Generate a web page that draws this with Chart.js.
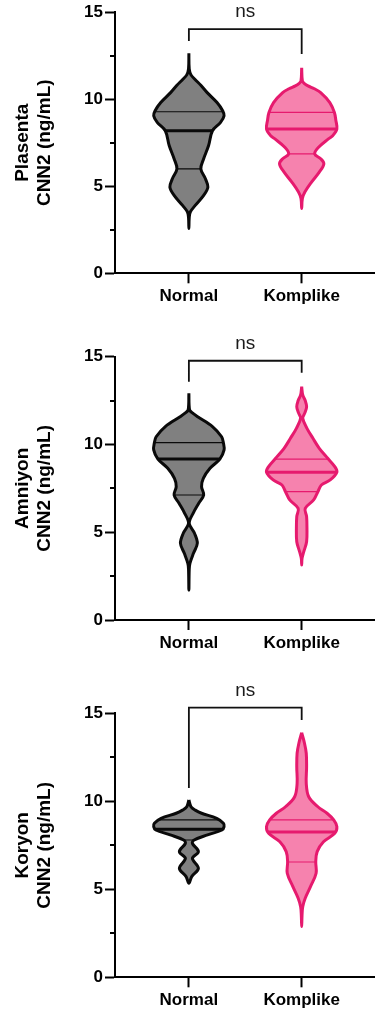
<!DOCTYPE html>
<html>
<head>
<meta charset="utf-8">
<script src="https://cdn.jsdelivr.net/npm/chart.js@4.4.1/dist/chart.umd.min.js"></script>
<style>
  html, body { margin: 0; padding: 0; background: #fff; }
  #wrap { position: relative; width: 375px; height: 1013px; }
  canvas { position: absolute; left: 0; }
</style>
</head>
<body>
<div id="wrap">
  <canvas id="plasenta" width="375" height="330" style="top:0px"></canvas>
  <canvas id="amniyon" width="375" height="340" style="top:330px"></canvas>
  <canvas id="koryon" width="375" height="343" style="top:670px"></canvas>
</div>
<script>
const categories = ['Normal', 'Komplike'];
const minorTicks = [2.5, 7.5, 12.5];

// violin profiles: levels (ng/mL) and relative density (1 = widest)
const plasentaNormalY = [12.64, 11.75, 11.4, 11.15, 10.8, 10.38, 9.81, 9.34, 9.05, 8.67, 8.19, 7.34, 6.58, 6.0, 5.43, 4.95, 4.48, 3.9, 3.52, 3.2, 2.57];
const plasentaNormalDensity = [0, 0.01, 0.06, 0.17, 0.34, 0.52, 0.8, 0.96, 1.0, 0.9, 0.67, 0.56, 0.42, 0.34, 0.47, 0.54, 0.42, 0.18, 0.04, 0.01, 0];
const plasentaNormalQuartiles = [6.0, 8.19, 9.28];

const plasentaKomplikeY = [11.81, 11.05, 10.9, 10.77, 10.6, 10.38, 9.81, 9.24, 8.8, 8.29, 7.9, 7.72, 7.24, 6.86, 6.58, 6.29, 5.81, 5.24, 4.67, 4.3, 3.72];
const plasentaKomplikeDensity = [0, 0.02, 0.08, 0.18, 0.36, 0.54, 0.8, 0.93, 0.97, 1.0, 0.88, 0.76, 0.48, 0.37, 0.54, 0.63, 0.5, 0.28, 0.09, 0.02, 0];
const plasentaKomplikeQuartiles = [6.86, 8.29, 9.24];

const amniyonNormalY = [12.92, 11.97, 11.8, 11.58, 11.02, 10.44, 10.1, 9.69, 9.17, 8.64, 8.07, 7.6, 7.12, 6.65, 6.08, 5.51, 4.94, 4.37, 3.8, 3.23, 2.9, 1.71];
const amniyonNormalDensity = [0, 0.02, 0.1, 0.25, 0.67, 0.93, 0.98, 1.0, 0.88, 0.6, 0.41, 0.36, 0.42, 0.28, 0.12, 0.01, 0.16, 0.24, 0.13, 0.03, 0.01, 0];
const amniyonNormalQuartiles = [7.12, 9.17, 10.1];

const amniyonKomplikeY = [13.29, 12.82, 12.5, 12.15, 11.8, 11.49, 10.92, 10.35, 9.78, 9.21, 8.74, 8.42, 7.98, 7.69, 7.31, 6.84, 6.36, 5.89, 5.22, 4.46, 3.89, 3.5, 3.13];
const amniyonKomplikeDensity = [0, 0.03, 0.1, 0.14, 0.09, 0.03, 0.15, 0.32, 0.5, 0.74, 0.94, 1.0, 0.81, 0.56, 0.46, 0.34, 0.1, 0.14, 0.15, 0.14, 0.06, 0.01, 0];
const amniyonKomplikeQuartiles = [7.31, 8.42, 9.17];

const koryonNormalY = [10.07, 9.69, 9.5, 9.32, 9.03, 8.75, 8.56, 8.37, 8.09, 7.8, 7.61, 7.14, 6.76, 6.19, 5.72, 5.34];
const koryonNormalDensity = [0, 0.06, 0.18, 0.36, 0.79, 0.98, 1.0, 0.94, 0.53, 0.15, 0.1, 0.27, 0.1, 0.27, 0.08, 0];
const koryonNormalQuartiles = [7.8, 8.41, 8.94];

const koryonKomplikeY = [13.9, 13.3, 12.73, 11.97, 11.02, 10.26, 9.69, 9.32, 8.94, 8.56, 8.18, 7.7, 7.14, 6.57, 5.91, 5.15, 4.49, 4.01, 3.5, 2.88];
const koryonKomplikeDensity = [0, 0.08, 0.13, 0.14, 0.13, 0.2, 0.46, 0.72, 0.91, 1.0, 0.94, 0.62, 0.44, 0.4, 0.41, 0.25, 0.1, 0.03, 0.01, 0];
const koryonKomplikeQuartiles = [6.55, 8.25, 8.94];

// significance brackets: [Normal leg end, bar, Komplike leg end]
const plasentaBracket = [13.34, 14.03, 12.6];
const amniyonBracket = [13.57, 14.77, 14.09];
const koryonBracket = [10.76, 15.32, 14.62];
const bracketLabel = 'ns';

const axisColor = '#000';
const normalFill = 'rgb(128,128,128)';
const normalLine = '#0a0a0a';
const komplikeFill = 'rgb(246,130,174)';
const komplikeLine = 'rgb(230,26,110)';
const halfWidth = 0.312;
const tension = 0.35;

Chart.defaults.font.family = 'Arial, "Liberation Sans", sans-serif';
Chart.defaults.color = '#000';

function violinPoints(center, ys, dens) {
    const right = ys.map((y, i) => ({ x: center + dens[i] * halfWidth, y: y }));
    const left = ys.map((y, i) => ({ x: center - dens[i] * halfWidth, y: y })).reverse().slice(1);
    return right.concat(left);
}

// quartile lines are clipped to the outline of their violin
const quartileClip = {
    id: 'quartileClip',
    beforeDatasetDraw(chart, args) {
        const ds = chart.data.datasets[args.index];
        if (ds.clipTo === undefined)
            return;
        const outline = chart.getDatasetMeta(ds.clipTo).dataset;
        const ctx = chart.ctx;
        ctx.save();
        ctx.beginPath();
        outline.path(ctx);
        ctx.closePath();
        ctx.clip();
    },
    afterDatasetDraw(chart, args) {
        if (chart.data.datasets[args.index].clipTo !== undefined)
            chart.ctx.restore();
    }
};

const minorTickPlugin = {
    id: 'minorTicks',
    afterDraw(chart) {
        const y = chart.scales.y;
        const ctx = chart.ctx;
        ctx.save();
        ctx.strokeStyle = axisColor;
        ctx.lineWidth = 2;
        minorTicks.forEach(v => {
            const py = Math.round(y.getPixelForValue(v));
            ctx.beginPath();
            ctx.moveTo(y.right - 5, py);
            ctx.lineTo(y.right, py);
            ctx.stroke();
        });
        ctx.restore();
    }
};

const bracketText = {
    id: 'bracketText',
    afterDatasetsDraw(chart) {
        const ds = chart.data.datasets.find(d => d.bracket);
        if (!ds)
            return;
        const ctx = chart.ctx;
        const px = chart.scales.x.getPixelForValue(1.5);
        const py = chart.scales.y.getPixelForValue(ds.data[1].y);
        ctx.save();
        ctx.fillStyle = '#1a1a1a';
        ctx.font = '19px Arial, "Liberation Sans", sans-serif';
        ctx.textAlign = 'center';
        ctx.textBaseline = 'middle';
        ctx.fillText(bracketLabel, px, py - 17);
        ctx.restore();
    }
};

function violinSet(center, ys, dens, quartiles, fill, line, firstIndex) {
    const sets = [{
        data: violinPoints(center, ys, dens),
        borderColor: line,
        backgroundColor: fill,
        borderWidth: 3,
        fill: 'shape',
        tension: tension,
        order: 1
    }];
    quartiles.forEach((q, i) => {
        sets.push({
            data: [{ x: center - 0.5, y: q }, { x: center + 0.5, y: q }],
            borderColor: line,
            borderWidth: i === 1 ? 3 : 1.2,
            fill: false,
            clipTo: firstIndex,
            order: 2
        });
    });
    return sets;
}

function createPanel(canvasId, title, normal, komplike, bracket, padTop, xHeight) {
    const datasets = [{
        data: [{ x: 1, y: bracket[0] }, { x: 1, y: bracket[1] }, { x: 2, y: bracket[1] }, { x: 2, y: bracket[2] }],
        borderColor: '#111',
        borderWidth: 1.8,
        borderJoinStyle: 'miter',
        fill: false,
        clip: false,
        bracket: true,
        order: 0
    }];
    datasets.push(...violinSet(1, normal[0], normal[1], normal[2], normalFill, normalLine, datasets.length));
    datasets.push(...violinSet(2, komplike[0], komplike[1], komplike[2], komplikeFill, komplikeLine, datasets.length));

    const tickFont = { size: 17, weight: 'bold' };
    new Chart(document.getElementById(canvasId), {
        type: 'line',
        data: { datasets: datasets },
        options: {
            responsive: false,
            animation: false,
            devicePixelRatio: 1,
            layout: { padding: { top: padTop, left: 0, right: 0, bottom: 0 } },
            elements: { point: { radius: 0 } },
            plugins: {
                legend: { display: false },
                tooltip: { enabled: false },
                filler: { drawTime: 'beforeDatasetsDraw' }
            },
            scales: {
                x: {
                    type: 'linear',
                    min: 0.345,
                    max: 2.65,
                    afterBuildTicks: axis => { axis.ticks = categories.map((c, i) => ({ value: i + 1 })); },
                    afterFit: axis => { axis.height = xHeight; },
                    ticks: {
                        callback: v => categories[v - 1],
                        font: tickFont,
                        color: '#000',
                        padding: 3,
                        maxRotation: 0
                    },
                    grid: { drawOnChartArea: false, tickLength: 10, tickWidth: 2, tickColor: axisColor },
                    border: { color: axisColor, width: 2 }
                },
                y: {
                    min: 0,
                    max: 15,
                    afterFit: axis => { axis.width = 115; },
                    ticks: { stepSize: 5, font: tickFont, color: '#000', padding: 2 },
                    grid: { drawOnChartArea: false, tickLength: 10, tickWidth: 2, tickColor: axisColor },
                    border: { color: axisColor, width: 2 },
                    title: {
                        display: true,
                        text: title,
                        font: { size: 19, weight: 'bold' },
                        color: '#000',
                        padding: { top: 11, bottom: 0 }
                    }
                }
            }
        },
        plugins: [quartileClip, minorTickPlugin, bracketText]
    });
}

createPanel('plasenta', ['Plasenta', 'CNN2 (ng/mL)'],
    [plasentaNormalY, plasentaNormalDensity, plasentaNormalQuartiles],
    [plasentaKomplikeY, plasentaKomplikeDensity, plasentaKomplikeQuartiles],
    plasentaBracket, 11, 56.7);

createPanel('amniyon', ['Amniyon', 'CNN2 (ng/mL)'],
    [amniyonNormalY, amniyonNormalDensity, amniyonNormalQuartiles],
    [amniyonKomplikeY, amniyonKomplikeDensity, amniyonKomplikeQuartiles],
    amniyonBracket, 26.7, 50);

createPanel('koryon', ['Koryon', 'CNN2 (ng/mL)'],
    [koryonNormalY, koryonNormalDensity, koryonNormalQuartiles],
    [koryonKomplikeY, koryonKomplikeDensity, koryonKomplikeQuartiles],
    koryonBracket, 43.3, 35.7);
</script>
</body>
</html>
